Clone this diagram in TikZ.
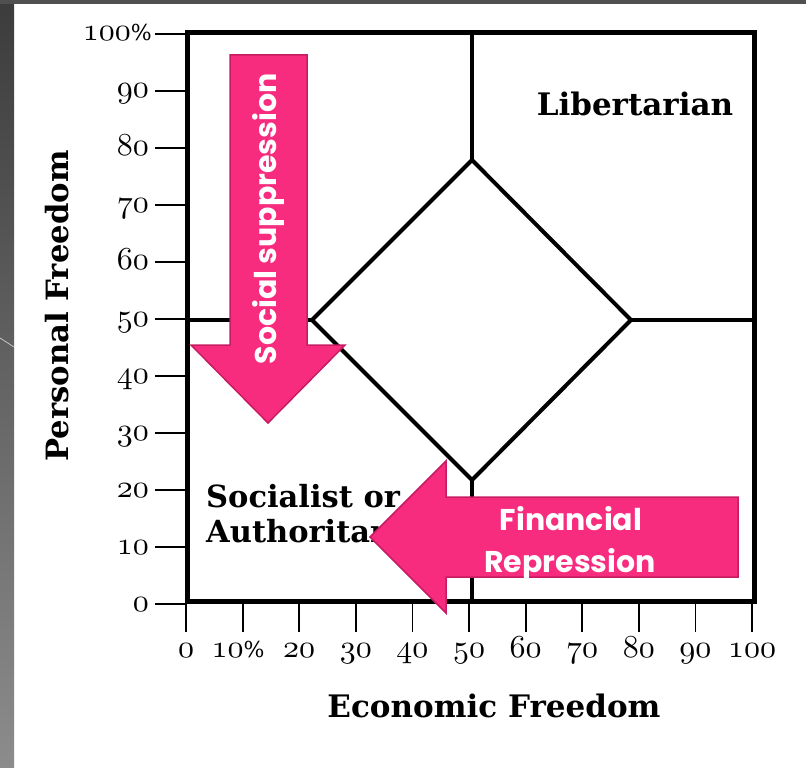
\documentclass[tikz,border=0pt]{standalone}
\usepackage{fontspec}
\setmainfont{DejaVu Serif}
\newfontfamily\arrowfont{Poppins}
\DeclareFontFamily{OML}{myosf}{\skewchar\font=127}
\DeclareFontShape{OML}{myosf}{m}{it}{<-> cmmi10}{}
\DeclareFontShape{OML}{myosf}{b}{it}{<-> cmmib10}{}
\definecolor{pinkfill}{RGB}{248,44,126}
\definecolor{pinkedge}{RGB}{200,28,98}
\definecolor{bardark}{RGB}{60,60,60}
\definecolor{barlight}{RGB}{140,140,140}
\newcommand\osn[1]{{\fontsize{32}{32}\usefont{OML}{myosf}{m}{it}#1}}
\newcommand\pct{{\fontsize{22}{22}\selectfont\%}}
\tikzset{
  frameline/.style={line width=5pt, line join=miter},
  divline/.style={line width=4pt, line join=miter},
  tickline/.style={line width=1.8pt},
  ticklab/.style={inner sep=0pt},
  serifbold/.style={inner sep=0pt},
  pinkarrow/.style={fill=pinkfill, draw=pinkedge, line width=1.5pt, line join=miter},
  arrowtxt/.style={font=\arrowfont\bfseries\fontsize{30}{30}\selectfont, text=white, inner sep=0pt}
}
\begin{document}
\begin{tikzpicture}[x=1pt,y=-1pt]
\useasboundingbox (0,0) rectangle (806,768);
\fill[white] (0,0) rectangle (806,768);
% slide frame
\shade[top color=bardark, bottom color=barlight] (0,0) rectangle (14,768);
\fill[bardark!90!white] (0,0) rectangle (806,4);
\draw[white!55!gray, line width=0.8pt] (0,338) -- (14,347);

% axes ticks
\foreach \k/\t in {0/0,1/10,2/20,3/30,4/40,5/50,6/60,7/70,8/80,9/90}{
  \draw[tickline] (155,{604-57*\k}) -- (187,{604-57*\k});
  \node[ticklab, anchor=base east] (yl\k) at (149,{604-57*\k+7}) {\osn{\t}};
}
\draw[tickline] (155,34) -- (187,34);
\node[ticklab, anchor=base east] (yl10) at (152,41) {\osn{100}\pct};
\foreach \k/\t in {0/0,2/20,3/30,4/40,5/50,6/60,7/70,8/80,9/90,10/100}{
  \draw[tickline] ({186+56.6*\k},601) -- ({186+56.6*\k},632);
  \node[ticklab, anchor=base] (xl\k) at ({186+56.6*\k},657) {\osn{\t}};
}
\draw[tickline] (242.6,601) -- (242.6,632);
\node[ticklab, anchor=base] (xl1) at (238,657) {\osn{10}\pct};

% frame and dividers
\coordinate (dT) at (472,160);
\coordinate (dR) at (631,320);
\coordinate (dB) at (472,480);
\coordinate (dL) at (312,320);
\draw[divline] (472,33) -- (dT);
\draw[divline] (472,601) -- (dB);
\draw[divline] (187,320) -- (dL);
\draw[divline] (754,320) -- (dR);
\draw[divline] (dT) -- (dR) -- (dB) -- (dL) -- cycle;
\draw[frameline] (187,33) rectangle (754,601);

% labels
\node[serifbold, font=\bfseries\fontsize{31}{31}\selectfont, anchor=base] (lib) at (635,115) {Libertarian};
\node[serifbold, font=\bfseries\fontsize{30.5}{30.5}\selectfont, anchor=base west] (soc) at (206,507) {Socialist or};
\node[serifbold, font=\bfseries\fontsize{30.5}{30.5}\selectfont, anchor=base west] (aut) at (206,542) {Authoritarian};
\node[serifbold, font=\bfseries\fontsize{30.7}{30.7}\selectfont, rotate=90] (pf) at (57,306) {Personal Freedom};
\node[serifbold, font=\bfseries\fontsize{31}{31}\selectfont] (ef) at (494,706) {Economic Freedom};

% pink arrows
\draw[pinkarrow] (230,55) -- (307,55) -- (307,345) -- (345,345) -- (268,423) -- (191,345) -- (230,345) -- cycle;
\node[arrowtxt, rotate=90] (ss) at (268,219) {Social suppression};
\draw[pinkarrow] (738,497) -- (738,577) -- (446,577) -- (446,613) -- (370,537) -- (446,461) -- (446,497) -- cycle;
\node[arrowtxt, anchor=base] (fin) at (571,530) {Financial};
\node[arrowtxt, anchor=base] (rep) at (570,572) {Repression};
\end{tikzpicture}
\end{document}
